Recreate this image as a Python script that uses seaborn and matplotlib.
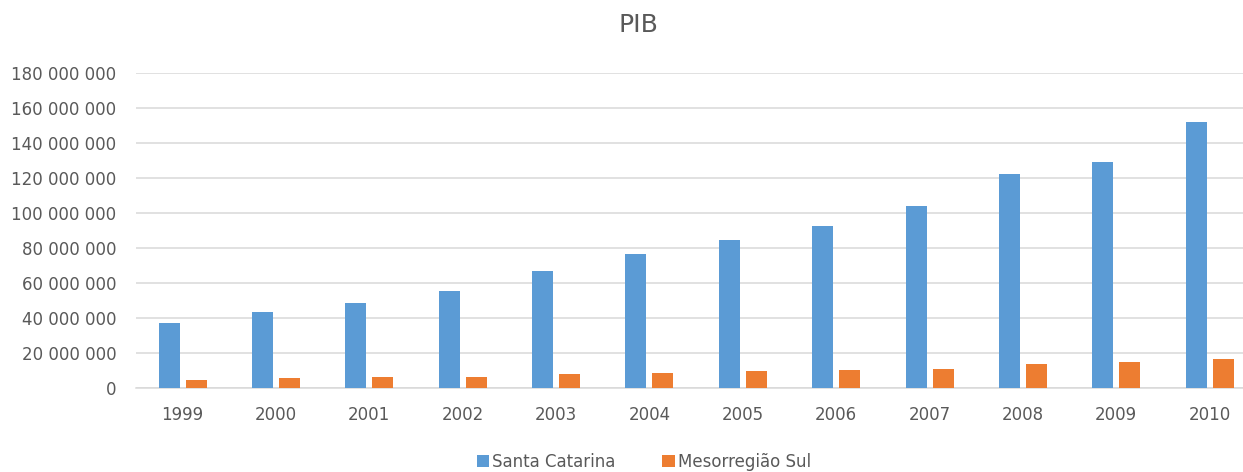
import matplotlib
matplotlib.use("Agg")
import matplotlib.pyplot as plt
from matplotlib.ticker import FuncFormatter, MultipleLocator
from matplotlib.patches import Patch
import pandas as pd
import seaborn as sns

# PIB (R$ mil) por ano
anos = ["1999", "2000", "2001", "2002", "2003", "2004",
        "2005", "2006", "2007", "2008", "2009", "2010"]
santa_catarina = [36.8e6, 43.3e6, 48.3e6, 55.5e6, 66.6e6, 76.5e6,
                  84.5e6, 92.7e6, 104.0e6, 122.6e6, 129.1e6, 151.9e6]
mesorregiao_sul = [4.3e6, 5.3e6, 6.0e6, 6.1e6, 7.6e6, 8.5e6,
                   9.3e6, 10.0e6, 10.8e6, 13.2e6, 14.7e6, 16.4e6]
series = ["Santa Catarina", "Mesorregião Sul"]
cores = ["#5b9bd5", "#ed7d31"]

df = pd.DataFrame({
    "Ano": anos * 2,
    "Série": [series[0]] * len(anos) + [series[1]] * len(anos),
    "PIB": santa_catarina + mesorregiao_sul,
})

sns.set_theme(style="white")
plt.rcParams["font.family"] = ["DejaVu Sans"]
texto = "#595959"
grade = "#d9d9d9"

fig = plt.figure(figsize=(12.43, 4.72), dpi=100)
ax = fig.add_axes([0.1093, 0.179, 0.8907, 0.6655])

sns.barplot(data=df, x="Ano", y="PIB", hue="Série", hue_order=series,
            palette=cores, width=0.578, gap=0.22, saturation=1,
            linewidth=0, ax=ax, legend=False, zorder=3)

ax.set_xlim(-0.5, 11.357)
ax.set_ylim(0, 180e6)
ax.yaxis.set_major_locator(MultipleLocator(20e6))
ax.yaxis.set_major_formatter(
    FuncFormatter(lambda v, _: f"{int(round(v)):,}".replace(",", " ")))
ax.grid(axis="y", color=grade, linewidth=1.1, zorder=0)
ax.set_axisbelow(True)
for s in ["top", "right", "left"]:
    ax.spines[s].set_visible(False)
ax.spines["bottom"].set_color(grade)
ax.spines["bottom"].set_linewidth(1.1)
ax.tick_params(axis="y", length=0, pad=14, labelsize=12, labelcolor=texto)
ax.tick_params(axis="x", length=0, pad=13, labelsize=12, labelcolor=texto)
ax.set_xlabel("")
ax.set_ylabel("")

fig.text(638 / 1243, 1 - 25 / 472, "PIB", ha="center", va="center",
         fontsize=18, color=texto)

handles = [Patch(facecolor=c, edgecolor="none") for c in cores]
fig.legend(handles, series, loc="center",
           bbox_to_anchor=(644 / 1243, 1 - 462 / 472), ncol=2,
           frameon=False, fontsize=12, labelcolor=texto,
           handlelength=0.75, handleheight=0.75, handletextpad=0.2,
           columnspacing=2.8)

fig.savefig("out.png", dpi=100)
